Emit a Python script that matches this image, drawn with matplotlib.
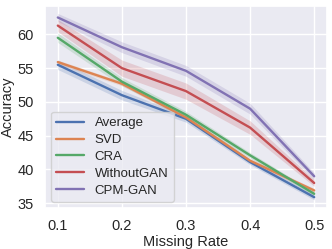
import matplotlib
matplotlib.use("Agg")
import matplotlib.pyplot as plt
import seaborn as sns
import numpy as np

missing_rate = [0.1, 0.2, 0.3, 0.4, 0.5]
series_names = ["Average", "SVD", "CRA", "WithoutGAN", "CPM-GAN"]
avg_vals = [55.5, 51.0, 47.5, 41.1, 35.9]
svd_vals = [55.9, 52.7, 47.7, 41.3, 36.9]
cra_vals = [59.5, 53.0, 48.1, 42.1, 36.4]
wog_vals = [61.3, 55.0, 51.6, 46.2, 38.0]
cpm_vals = [62.5, 58.1, 54.6, 49.0, 39.0]
# half-width of the shaded confidence band
avg_ci = [0.7, 0.7, 0.5, 0.4, 0.4]
svd_ci = [0.3, 0.3, 0.3, 0.3, 0.3]
cra_ci = [0.7, 0.6, 0.5, 0.4, 0.3]
wog_ci = [0.9, 1.2, 1.2, 1.0, 0.5]
cpm_ci = [0.6, 0.8, 0.8, 0.8, 0.5]

sns.set_theme(style="darkgrid")
plt.rcParams['font.family'] = ['Liberation Sans', 'DejaVu Sans']

fig = plt.figure(figsize=(3.32, 2.49), dpi=100)
ax = fig.add_axes([45/332, 41/249, (327-45)/332, (208-6)/249])

palette = sns.color_palette("deep")
all_vals = [avg_vals, svd_vals, cra_vals, wog_vals, cpm_vals]
all_ci = [avg_ci, svd_ci, cra_ci, wog_ci, cpm_ci]
x = np.array(missing_rate)
for name, vals, ci, col in zip(series_names, all_vals, all_ci, palette):
    v = np.array(vals); c = np.array(ci)
    ax.fill_between(x, v - c, v + c, color=col, alpha=0.2, linewidth=0)
    ax.plot(x, v, color=col, lw=1.7, label=name)

ax.set_xlim(0.08, 0.52)
ax.set_ylim(34.3, 64.2)
ax.set_xticks(missing_rate)
ax.set_xticklabels(["0.1", "0.2", "0.3", "0.4", "0.5"])
ax.set_yticks([35, 40, 45, 50, 55, 60])
ax.tick_params(labelsize=10.5, pad=2)
ax.set_xlabel("Missing Rate", fontsize=10.5, labelpad=1)
ax.set_ylabel("Accuracy", fontsize=10.5, labelpad=2)
ax.legend(loc="lower left", fontsize=9.5, handlelength=2.1, labelspacing=0.35,
          borderaxespad=0.45)

fig.savefig("out.png", dpi=100)
